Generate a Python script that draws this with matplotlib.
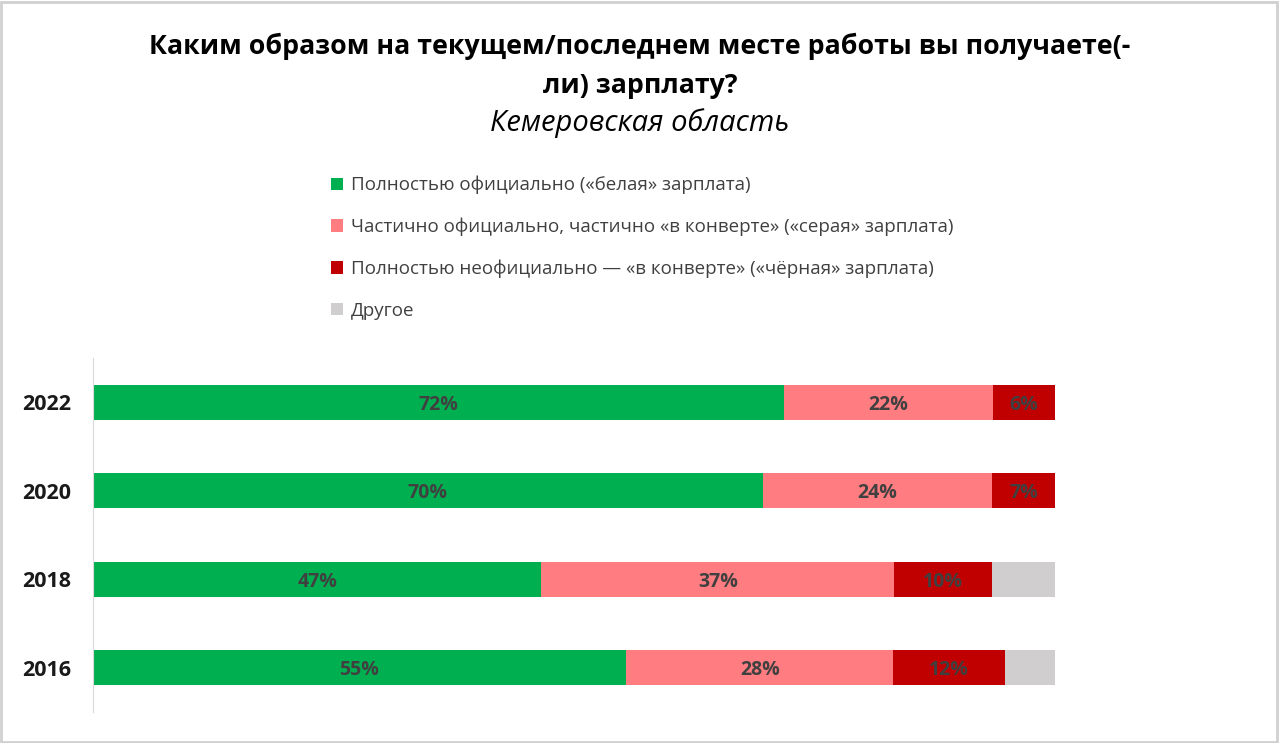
import numpy as np
import matplotlib
matplotlib.use('Agg')
import matplotlib.pyplot as plt
from matplotlib.patches import Rectangle, Patch

# data (shares in %; labels are rounded)
years = ['2022', '2020', '2018', '2016']
white = [71.8, 69.6, 46.6, 55.4]
grey_pay = [21.8, 23.9, 36.7, 27.8]
black = [6.4, 6.6, 10.1, 11.6]
other = [0, 0, 6.6, 5.2]

series_names = ['Полностью официально («белая» зарплата)',
                'Частично официально, частично «в конверте» («серая» зарплата)',
                'Полностью неофициально — «в конверте» («чёрная» зарплата)',
                'Другое']
colors = ['#00B050', '#FF7C80', '#C00000', '#D0CECE']
show_labels = [True, True, True, False]

plt.rcParams['font.family'] = ['Open Sans', 'DejaVu Sans']

fig = plt.figure(figsize=(12.8, 7.43), dpi=100)
ax = fig.add_axes([93 / 1280, 1 - 712 / 743, (1055 - 93) / 1280, (712 - 358) / 743])

series = np.array([white, grey_pay, black, other], dtype=float)
ypos = np.arange(len(years))[::-1]

left = np.zeros(len(years))
for vals, col, lab in zip(series, colors, show_labels):
    ax.barh(ypos, vals, left=left, height=0.4, color=col, edgecolor='none')
    if lab:
        for y, l, v in zip(ypos, left, vals):
            if v > 0:
                ax.text(l + v / 2, y, f'{v:.0f}%', ha='center', va='center_baseline',
                        fontsize=14, fontweight='bold', color='#404040')
    left += vals

ax.set_xlim(0, 100)
ax.set_ylim(-0.5, 3.5)
ax.set_yticks(ypos)
ax.set_yticklabels(years, fontsize=15.5, fontweight='bold', color='#1a1a1a')
ax.tick_params(axis='y', length=0, pad=16)
ax.set_xticks([])
for s in ['top', 'right', 'bottom']:
    ax.spines[s].set_visible(False)
ax.spines['left'].set_color('#D9D9D9')

# title
fig.text(0.5, 1 - 46 / 743, 'Каким образом на текущем/последнем месте работы вы получаете(-',
         ha='center', va='center', fontsize=19.3, fontweight='bold', color='#000000')
fig.text(0.5, 1 - 86 / 743, 'ли) зарплату?',
         ha='center', va='center', fontsize=19.3, fontweight='bold', color='#000000')
fig.text(0.5, 1 - 123 / 743, 'Кемеровская область',
         ha='center', va='center', fontsize=21, fontstyle='italic', color='#000000')

# legend
handles = [Patch(facecolor=c, edgecolor='none') for c in colors]
fig.legend(handles, series_names, loc='upper left',
           bbox_to_anchor=(314 / 1280, 1 - 159 / 743), frameon=False,
           fontsize=13.5, labelcolor='#404040', handlelength=0.65, handleheight=0.65,
           handletextpad=0.4, labelspacing=1.25)

# outer frame
fig.patches.append(Rectangle((0.001, 0.002), 0.997, 0.995, transform=fig.transFigure,
                             fill=False, edgecolor='#D0D0D0', linewidth=2))

fig.savefig('out.png', dpi=100)
